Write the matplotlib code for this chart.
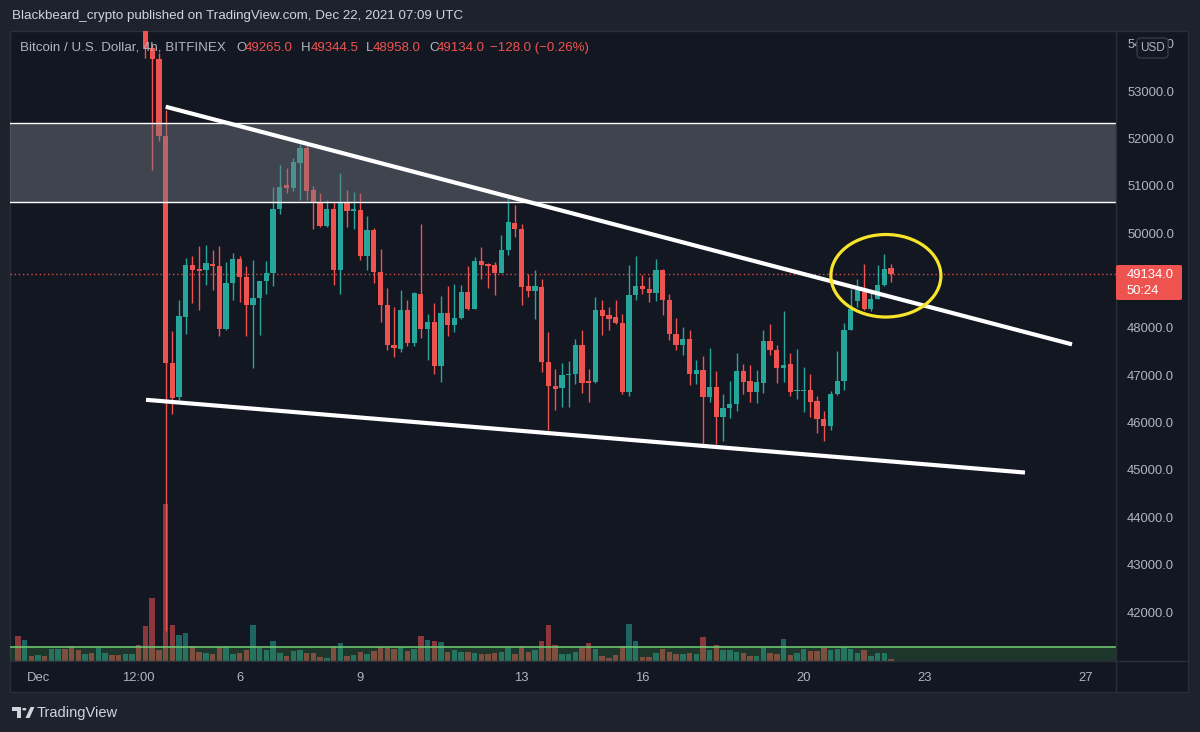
import pandas as pd
import matplotlib
import matplotlib.pyplot as plt
import matplotlib.dates as mdates
from matplotlib.patches import Rectangle, Ellipse, Polygon, Circle, FancyBboxPatch
from matplotlib.ticker import FuncFormatter

plt.rcParams['font.family'] = ['Liberation Sans', 'DejaVu Sans']

W, H = 1200, 732
BG = '#131722'
OUTER = '#1e222d'
GRIDLINE = '#2a2e39'
UP = '#26a69a'
DOWN = '#ef5350'
TXT = '#b2b5be'

# BTC/USD 4h, Bitfinex, first candle 2021-11-30 12:00
opens = [57900, 57100, 57500, 56900, 57300, 57000, 58300, 58800, 57400, 56900,
         56600, 57000, 56500, 57000, 57200, 56700, 56400, 57000, 57300, 56000,
         53900, 53670, 52049,
         47256, 46538, 48229, 49322, 49237, 49231, 49357, 49300, 47983, 48948,
         49455, 49075, 48476, 48639, 48990, 49159, 50499, 51013, 50943, 51484,
         51801, 50907, 50626, 50146, 50520, 49216, 50660, 50470, 50484, 49512,
         50062, 49174, 48490, 47645, 47561, 48385, 47679, 48722, 47969, 48123,
         47186, 48313, 48053, 48216, 48757, 48406, 49406, 49343, 49322, 49159,
         49639, 50216, 50097, 48878, 48778, 48863, 47277, 46764, 46736, 46996,
         47020, 47630, 46870, 46850, 48370, 48280, 48230, 48102, 46637, 48687,
         48878, 48830, 48736, 49231, 48582, 47877, 47630, 47772, 47017, 47102,
         46538, 46749, 46129, 46313, 46383, 47087, 46870, 46643, 46834, 47721,
         47525, 47159, 47229, 46665, 46665, 46680, 46453, 46081, 45939, 46595,
         46876, 47962, 48567, 48757, 48406, 48618, 48899, 49265]
highs = [58300, 57700, 57600, 57600, 57500, 58500, 59100, 59000, 57800, 57300,
         57200, 57200, 57300, 57400, 57300, 57000, 57300, 57600, 57500, 56100,
         54000, 53800, 52600,
         47933, 48582, 49484, 49512, 49723, 49744, 49653, 49723, 49385, 49582,
         49512, 49307, 49442, 49000, 49413, 50977, 51436, 51366, 51577, 51873,
         51858, 50992, 50837, 50710, 50660, 51260, 50907, 50871, 50837, 50357,
         50100, 49675, 48850, 48440, 48793, 48582, 48750, 50203, 48301, 48525,
         48666, 48878, 48920, 48899, 49300, 49497, 49709, 49360, 49400, 49956,
         50732, 50590, 50203, 49146, 49216, 49032, 47912, 47138, 47256, 47300,
         47772, 47948, 47138, 48652, 48582, 48440, 48582, 48301, 49322, 49512,
         49110, 49075, 49463, 49240, 48723, 48216, 48017, 47948, 47313, 47398,
         47582, 47087, 46609, 46876, 47468, 47229, 47208, 47117, 47962, 48074,
         47630, 48356, 47468, 47561, 47172, 47032, 46553, 46250, 46665, 47510,
         48102, 48829, 49040, 49358, 48790, 49322, 49569, 49344.5]
lows = [56800, 56900, 56600, 56800, 56700, 56900, 58000, 57200, 56500, 56300,
        56400, 56200, 56300, 56800, 56500, 56200, 56300, 56800, 55800, 53700,
        51330, 51950, 41606,
        46172, 46480, 47878, 48525, 48385, 48899, 48807, 47835, 47950, 48582,
        48546, 47827, 47159, 47842, 48723, 48878, 50400, 50837, 50893, 50710,
        50710, 50097, 50140, 50120, 48899, 48723, 50131, 50097, 49442, 49231,
        48948, 48123, 47539, 47383, 47489, 47609, 47620, 47793, 47313, 47032,
        46855, 47821, 47912, 48180, 48385, 48400, 49040, 48850, 48687, 49150,
        49533, 49920, 48476, 48652, 48195, 47066, 45834, 46271, 46326, 46340,
        46806, 46622, 46432, 46840, 47842, 47948, 48090, 46610, 46570, 48582,
        48723, 48546, 48568, 48265, 47736, 47539, 47419, 46785, 46806, 45516,
        46432, 45550, 45620, 46102, 46242, 46609, 46432, 46410, 46622, 47419,
        46834, 46855, 46570, 46500, 46220, 46115, 45777, 45620, 45848, 46580,
        46679, 47950, 48440, 48370, 48356, 48600, 48880, 48958]
closes = [57100, 57500, 56900, 57300, 57000, 58300, 58800, 57400, 56900, 56600,
          57000, 56500, 57000, 57200, 56700, 56400, 57000, 57300, 56000, 53909,
          53670, 52049, 47256,
          46525, 48243, 49322, 49231, 49201, 49370, 49315, 47983, 48948, 49455,
          49075, 48476, 48639, 48990, 49159, 50499, 50977, 50943, 51505, 51801,
          50892, 50626, 50146, 50520, 49216, 50660, 50470, 50499, 49512, 50062,
          49174, 48476, 47630, 47582, 48385, 47679, 48736, 47983, 48123, 47186,
          48313, 48053, 48216, 48757, 48406, 49406, 49336, 49307, 49159, 49639,
          50237, 50097, 48863, 48778, 48878, 47277, 46764, 46715, 46996, 47030,
          47630, 46834, 46834, 48370, 48243, 48195, 48102, 46637, 48687, 48878,
          48830, 48736, 49216, 48582, 47863, 47630, 47772, 47017, 47117, 46538,
          46749, 46129, 46313, 46383, 47087, 46855, 46643, 46855, 47721, 47525,
          47159, 47208, 46643, 46680, 46680, 46432, 46081, 45939, 46595, 46876,
          47962, 48406, 48793, 48406, 48618, 48899, 49252, 49134]
volumes = [625, 520, 125, 150, 125, 300, 300, 290, 370, 280,
           180, 210, 330, 200, 150, 150, 170, 170, 400, 880,
           1570, 270, 3930, 900, 650, 700, 370, 230, 210, 170,
           350, 375, 180, 210, 270, 890, 330, 270, 500, 200,
           125, 250, 280, 190, 190, 100, 80, 375, 440, 125,
           150, 225, 180, 250, 360, 330, 290, 350, 250, 290,
           625, 520, 500, 475, 230, 270, 230, 225, 190, 170,
           170, 190, 225, 320, 170, 370, 230, 270, 500, 900,
           400, 180, 180, 225, 320, 440, 290, 125, 80, 150,
           375, 920, 500, 100, 100, 200, 310, 220, 180, 180,
           200, 170, 600, 270, 400, 270, 270, 225, 200, 125,
           125, 320, 200, 170, 540, 150, 210, 290, 250, 250,
           330, 280, 290, 360, 310, 200, 270, 125, 210, 200, 50]

last_price = 49134.0
zone_low, zone_high = 50660, 52317
upper_line_t = ['2021-12-04 04:03', '2021-12-26 15:48']
upper_line_p = [52668, 47652]
lower_line_t = ['2021-12-03 16:19', '2021-12-25 11:47']
lower_line_p = [46482, 44946]
circle_t, circle_p = '2021-12-22 00:58', 49100
circle_w_days, circle_h_price = 2.73, 1742

# 49000.0 sits under the last-price label, so it is left out
price_ticks = [42000, 43000, 44000, 45000, 46000, 47000, 48000, 50000, 51000,
               52000, 53000, 54000]
x_ticks = ['2021-12-01 00:00', '2021-12-03 12:00', '2021-12-06 00:00', '2021-12-09 00:00',
           '2021-12-13 00:00', '2021-12-16 00:00', '2021-12-20 00:00', '2021-12-23 00:00',
           '2021-12-27 00:00']
x_labels = ['Dec', '12:00', '6', '9', '13', '16', '20', '23', '27']


def fx(x):
    return x / W


def fy(y):
    return 1 - y / H


def to_num(strings):
    return mdates.date2num(pd.to_datetime(strings, format='%Y-%m-%d %H:%M'))


times = pd.date_range('2021-11-30 12:00', periods=len(opens), freq='4h')
tnum = mdates.date2num(times)
colors = [UP if c >= o else DOWN for o, c in zip(opens, closes)]

fig = plt.figure(figsize=(W / 100, H / 100), dpi=100, facecolor=OUTER)

# chart panel
fig.add_artist(Rectangle((fx(10), fy(692)), fx(1178), 661 / H, transform=fig.transFigure,
                         facecolor=BG, edgecolor=GRIDLINE, lw=1, zorder=-5))

rect = [fx(10), fy(661), fx(1106), 630 / H]
xlim = tuple(to_num(['2021-11-30 07:19', '2021-12-27 18:00']))

# volume pane (behind the price)
axv = fig.add_axes(rect, zorder=0)
axv.patch.set_alpha(0)
axv.bar(tnum, volumes, width=0.135, color=colors, alpha=0.55, lw=0)
axv.axhspan(0, 350, color='#4caf50', alpha=0.2, lw=0)
axv.axhline(350, color='#6cc36f', lw=1.2)
axv.set_xlim(xlim)
axv.set_ylim(0, 15750)
axv.axis('off')

ax = fig.add_axes(rect, zorder=1)
ax.patch.set_alpha(0)
for s in ax.spines.values():
    s.set_visible(False)

ax.vlines(tnum, lows, highs, colors=colors, lw=1.0, zorder=2)
bottoms = [min(o, c) for o, c in zip(opens, closes)]
heights = [max(abs(c - o), 20) for o, c in zip(opens, closes)]
ax.bar(tnum, heights, bottom=bottoms, width=0.13, color=colors, lw=0, zorder=3)

# drawings
ax.axhspan(zone_low, zone_high, color='#787b86', alpha=0.45, lw=0, zorder=4)
ax.axhline(zone_low, color='white', lw=1, zorder=5)
ax.axhline(zone_high, color='white', lw=1, zorder=5)
ax.plot(to_num(upper_line_t), upper_line_p, color='white', lw=3,
        solid_capstyle='butt', zorder=6)
ax.plot(to_num(lower_line_t), lower_line_p, color='white', lw=3,
        solid_capstyle='butt', zorder=6)
ax.add_patch(Ellipse((to_num([circle_t])[0], circle_p), circle_w_days, circle_h_price,
                     fill=False, edgecolor='#f7e52a', lw=2.3, zorder=7))
ax.axhline(last_price, color=DOWN, lw=1, ls=(0, (1, 2)), alpha=0.9, zorder=1)

ax.set_xlim(xlim)
ax.set_ylim(40968, 54267)
ax.set_xticks(to_num(x_ticks))
ax.set_xticklabels(x_labels)
ax.set_yticks(price_ticks)
ax.yaxis.set_major_formatter(FuncFormatter(lambda v, p: '%.1f' % v))
ax.yaxis.tick_right()
ax.tick_params(axis='y', length=0, pad=8, labelcolor=TXT, labelsize=9.4)
ax.tick_params(axis='x', length=0, pad=8, labelcolor=TXT, labelsize=9.4)

# separators
fig.add_artist(plt.Line2D([fx(1116), fx(1116)], [fy(31), fy(692)],
                          transform=fig.transFigure, color=GRIDLINE, lw=1))
fig.add_artist(plt.Line2D([fx(10), fx(1188)], [fy(661), fy(661)],
                          transform=fig.transFigure, color=GRIDLINE, lw=1))

# price label on the axis
fig.add_artist(FancyBboxPatch((fx(1116), fy(300)), fx(66), 35 / H,
                              boxstyle='round,pad=0,rounding_size=0.002',
                              transform=fig.transFigure, facecolor=DOWN, lw=0, zorder=10))
fig.text(fx(1127), fy(275), '%.1f' % last_price, color='white', fontsize=9.4,
         va='center', zorder=11)
fig.text(fx(1127), fy(291), '50:24', color='white', fontsize=9.4, va='center', zorder=11)

# USD badge (covers most of the 54000.0 label, as in TradingView)
fig.add_artist(FancyBboxPatch((fx(1137), fy(58)), fx(31), 20 / H,
                              boxstyle='round,pad=0,rounding_size=0.004',
                              transform=fig.transFigure, facecolor=BG,
                              edgecolor='#363a45', lw=1, zorder=10))
fig.text(fx(1152.5), fy(48), 'USD', color=TXT, fontsize=8.5, ha='center', va='center', zorder=11)

# header / legend
fig.text(fx(12), fy(16), 'Blackbeard_crypto published on TradingView.com, Dec 22, 2021 07:09 UTC',
         color='#d1d4dc', fontsize=9.6, va='center')
legend = [(20, 'Bitcoin / U.S. Dollar, 4h, BITFINEX', TXT),
          (236, 'O', TXT), (245, '49265.0', DOWN),
          (301, 'H', TXT), (311, '49344.5', DOWN),
          (366, 'L', TXT), (373, '48958.0', DOWN),
          (429, 'C', TXT), (437, '49134.0', DOWN),
          (490, '\u2212128.0 (\u22120.26%)', DOWN)]
for x, s, c in legend:
    fs = 9.6 if x == 20 else 9.5
    fig.text(fx(x), fy(48), s, color=c, fontsize=fs, va='center', zorder=12)

# footer logo
logo = '#d1d4dc'
fig.add_artist(Rectangle((fx(12), fy(711)), fx(9), 4 / H, transform=fig.transFigure,
                         facecolor=logo, lw=0))
fig.add_artist(Rectangle((fx(16.5), fy(718)), fx(4.5), 11 / H, transform=fig.transFigure,
                         facecolor=logo, lw=0))
fig.add_artist(Polygon([(fx(25.5), fy(718)), (fx(29.5), fy(718)), (fx(34.5), fy(707)),
                        (fx(30.5), fy(707))], closed=True, transform=fig.transFigure,
                       facecolor=logo, lw=0))
fig.add_artist(Circle((fx(24.3), fy(709.2)), 2.1 / W, transform=fig.transFigure,
                      facecolor=logo, lw=0))
fig.text(fx(37), fy(712.5), 'TradingView', color=logo, fontsize=10.5, va='center')

fig.savefig('out.png', dpi=100, facecolor=OUTER)
